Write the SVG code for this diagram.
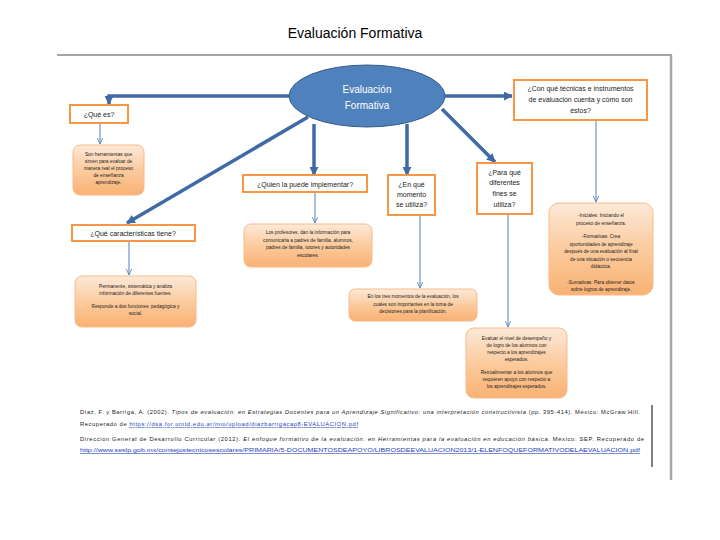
<svg xmlns="http://www.w3.org/2000/svg" width="720" height="540" viewBox="0 0 720 540">
<defs>
<linearGradient id="og" x1="0" y1="0" x2="0" y2="1">
<stop offset="0" stop-color="#FDE9D9"/>
<stop offset="0.5" stop-color="#FBCB9E"/>
<stop offset="1" stop-color="#F9B173"/>
</linearGradient>
<marker id="ah" viewBox="0 0 10 10" refX="9" refY="5" markerWidth="9" markerHeight="9" markerUnits="userSpaceOnUse" orient="auto">
<path d="M0,0 L10,5 L0,10 z" fill="#3F6AA6"/>
</marker>
<marker id="at" viewBox="0 0 10 10" refX="9" refY="5" markerWidth="7" markerHeight="7" markerUnits="userSpaceOnUse" orient="auto">
<path d="M0,1 L9,5 L0,9" fill="none" stroke="#4F81BD" stroke-width="1.2"/>
</marker>
</defs>
<style>
.t{font-family:"Liberation Sans",Arial,sans-serif;fill:#000}
.q{font-family:"Liberation Sans",Arial,sans-serif;font-size:7px;fill:#222;text-anchor:middle}
.s{font-family:"Liberation Sans",Arial,sans-serif;font-size:4.8px;fill:#222;text-anchor:middle}
.qb{fill:#fff;stroke:#F79646;stroke-width:2}
.ob{fill:url(#og);stroke:#F9B98A;stroke-width:1}
.thick{fill:none;stroke:#3F6AA6;stroke-width:3.5}
.thin{fill:none;stroke:#4F81BD;stroke-width:1}
.ref{font-family:"Liberation Sans",Arial,sans-serif;font-size:5.8px;fill:#222}
.lnk{fill:#1F3FB0;text-decoration:underline}
</style>
<rect width="720" height="540" fill="#fff"/>
<text class="t" x="355" y="38" font-size="14" text-anchor="middle">Evaluación Formativa</text>
<g id="frame">
<line x1="57" y1="55" x2="672" y2="55" stroke="#A6A6A6" stroke-width="2"/>
<line x1="671" y1="55" x2="671" y2="480" stroke="#A6A6A6" stroke-width="2.5"/>
<line x1="652" y1="405" x2="652" y2="467" stroke="#000" stroke-width="1"/>
</g>
<g id="connectors">
<path class="thick" d="M292,96 H109 V104" marker-end="url(#ah)"/>
<path class="thick" d="M444,96 H512" stroke-width="2" marker-end="url(#ah)"/>
<path class="thick" d="M308,117 L127,223" marker-end="url(#ah)"/>
<path class="thick" d="M314,124 V175" marker-end="url(#ah)"/>
<path class="thick" d="M407,124 V175" marker-end="url(#ah)"/>
<path class="thick" d="M442,109 L495,162" marker-end="url(#ah)"/>
<path class="thin" d="M100,123 V144" marker-end="url(#at)"/>
<path class="thin" d="M129,241 V275" marker-end="url(#at)"/>
<path class="thin" d="M315,192 V223" marker-end="url(#at)"/>
<path class="thin" d="M420,215 V288" marker-end="url(#at)"/>
<path class="thin" d="M508,214 V327" marker-end="url(#at)"/>
<path class="thin" d="M596,120 V202" marker-end="url(#at)"/>
</g>
<g id="main">
<ellipse cx="367" cy="96" rx="78" ry="31" fill="#4F81BD" stroke="#385D8A" stroke-width="1"/>
<text class="t" x="367" y="93" font-size="10" text-anchor="middle" style="fill:#fff">Evaluación</text>
<text class="t" x="367" y="109" font-size="10" text-anchor="middle" style="fill:#fff">Formativa</text>
</g>
<g id="que-es">
<rect class="qb" x="70" y="105" width="58" height="18"/>
<text class="q" x="99" y="117">¿Qué es?</text>
</g>
<g id="def">
<rect class="ob" x="73" y="145" width="71" height="50" rx="7"/>
<text class="s" x="108.5" y="156">Son herramientas que</text>
<text class="s" x="108.5" y="163">sirven para evaluar de</text>
<text class="s" x="108.5" y="170">manera real el proceso</text>
<text class="s" x="108.5" y="177">de enseñanza</text>
<text class="s" x="108.5" y="184">aprendizaje.</text>
</g>
<g id="caracteristicas">
<rect class="qb" x="72" y="225" width="123" height="16"/>
<text class="q" x="133" y="236">¿Qué características tiene?</text>
</g>
<g id="caract-resp">
<rect class="ob" x="75" y="276" width="121" height="51" rx="7"/>
<text class="s" x="135.5" y="288">Permanente, sistemática y analiza</text>
<text class="s" x="135.5" y="295">información de diferentes fuentes.</text>
<text class="s" x="135.5" y="308">Responde a dos funciones: pedagógica y</text>
<text class="s" x="135.5" y="315">social.</text>
</g>
<g id="quien">
<rect class="qb" x="243" y="175" width="124" height="17"/>
<text class="q" x="305" y="186.5">¿Quien la puede implementar?</text>
</g>
<g id="quien-resp">
<rect class="ob" x="244" y="224" width="128" height="43" rx="7"/>
<text class="s" x="308" y="234">Los profesores, dan la información para</text>
<text class="s" x="308" y="241.5">comunicarla a padres de familia, alumnos,</text>
<text class="s" x="308" y="249">padres de familia, tutores y autoridades</text>
<text class="s" x="308" y="256.5">escolares.</text>
</g>
<g id="momento">
<rect class="qb" x="388" y="175" width="47" height="40"/>
<text class="q" x="411.5" y="187">¿En qué</text>
<text class="q" x="411.5" y="197">momento</text>
<text class="q" x="411.5" y="207">se utiliza?</text>
</g>
<g id="momento-resp">
<rect class="ob" x="349" y="289" width="128" height="32" rx="6"/>
<text class="s" x="413" y="298">En los tres momentos de la evaluación, los</text>
<text class="s" x="413" y="305.5">cuales son importantes en la toma de</text>
<text class="s" x="413" y="313">decisiones para la planificación.</text>
</g>
<g id="para-que">
<rect class="qb" x="477" y="163" width="55" height="51"/>
<text class="q" x="504.5" y="175">¿Para qué</text>
<text class="q" x="504.5" y="185">diferentes</text>
<text class="q" x="504.5" y="196">fines se</text>
<text class="q" x="504.5" y="207">utiliza?</text>
</g>
<g id="para-que-resp">
<rect class="ob" x="466" y="328" width="101" height="70" rx="8"/>
<text class="s" x="516.5" y="340">Evaluar el nivel de desempeño y</text>
<text class="s" x="516.5" y="347">de logro de los alumnos con</text>
<text class="s" x="516.5" y="354">respecto a los aprendizajes</text>
<text class="s" x="516.5" y="361">esperados.</text>
<text class="s" x="516.5" y="374">Retroalimentar a los alumnos que</text>
<text class="s" x="516.5" y="381">requieren apoyo con respecto a</text>
<text class="s" x="516.5" y="388">los aprendizajes esperados.</text>
</g>
<g id="tecnicas">
<rect class="qb" x="514" y="80" width="133" height="40"/>
<text class="q" x="580.5" y="91">¿Con qué técnicas e instrumentos</text>
<text class="q" x="580.5" y="102">de evaluación cuenta y cómo son</text>
<text class="q" x="580.5" y="113">éstos?</text>
</g>
<g id="tecnicas-resp">
<rect class="ob" x="549" y="203" width="104" height="92" rx="10"/>
<text class="s" x="601" y="217">-Iniciales: Iniciando el</text>
<text class="s" x="601" y="224.5">proceso de enseñanza.</text>
<text class="s" x="601" y="238">-Formativas: Crea</text>
<text class="s" x="601" y="245.5">oportunidades de aprendizaje</text>
<text class="s" x="601" y="253">después de una evaluación al final</text>
<text class="s" x="601" y="260.5">de una situación o secuencia</text>
<text class="s" x="601" y="268">didáctica.</text>
<text class="s" x="601" y="284">-Sumativas: Para obtener datos</text>
<text class="s" x="601" y="291">sobre logros de aprendizaje.</text>
</g>
<g id="referencias">
<text class="ref" x="80" y="414" textLength="560" lengthAdjust="spacing">Díaz, F. y Barriga, A. (2002). <tspan font-style="italic">Tipos de evaluación. en Estrategias Docentes para un Aprendizaje Significativo: una interpretación constructivista</tspan> (pp. 395-414). México: McGraw Hill.</text>
<text class="ref" x="80" y="426" textLength="278" lengthAdjust="spacing">Recuperado de <tspan class="lnk">https://dsa.for.unitd.edu.ar/mio/upload/diazbarrigacap8-EVALUACION.pdf</tspan></text>
<text class="ref" x="80" y="441" textLength="564" lengthAdjust="spacing">Dirección General de Desarrollo Curricular (2012). <tspan font-style="italic">El enfoque formativo de la evaluación. en Herramientas para la evaluación en educación básica.</tspan> México: SEP. Recuperado de</text>
<text class="ref" x="80" y="452" textLength="560" lengthAdjust="spacingAndGlyphs"><tspan class="lnk">http://www.seslp.gob.mx/consejostecnicosescolares/PRIMARIA/5-DOCUMENTOSDEAPOYO/LIBROSDEEVALUACION2013/1-ELENFOQUEFORMATIVODELAEVALUACION.pdf</tspan></text>
</g>
</svg>
